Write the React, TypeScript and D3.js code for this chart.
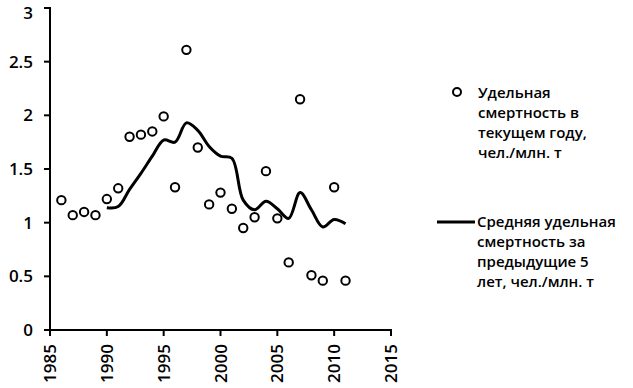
import React from "react";
import * as d3 from "d3";

const pointYears = [1986,1987,1988,1989,1990,1991,1992,1993,1994,1995,1996,1997,1998,1999,2000,2001,2002,2003,2004,2005,2006,2007,2008,2009,2010,2011];
const pointValues = [1.21,1.07,1.10,1.07,1.22,1.32,1.80,1.82,1.85,1.99,1.33,2.61,1.70,1.17,1.28,1.13,0.95,1.05,1.48,1.04,0.63,2.15,0.51,0.46,1.33,0.46];
const lineYears = [1990,1991,1992,1993,1994,1995,1996,1997,1998,1999,2000,2001,2002,2003,2004,2005,2006,2007,2008,2009,2010,2011];
const lineValues = [1.14,1.15,1.31,1.46,1.62,1.77,1.75,1.93,1.86,1.71,1.62,1.60,1.21,1.12,1.20,1.13,1.04,1.28,1.12,0.96,1.03,0.99];
const yTicks = [0,0.5,1,1.5,2,2.5,3];
const xTicks = [1985,1990,1995,2000,2005,2010,2015];
const legend1 = ["Удельная","смертность в","текущем году,","чел./млн. т"];
const legend2 = ["Средняя удельная","смертность за","предыдущие 5","лет, чел./млн. т"];

const FONT = "'Open Sans', 'Liberation Sans', sans-serif";

export default function App() {
  const x = d3.scaleLinear().domain([1985, 2015]).range([50, 391]);
  const y = d3.scaleLinear().domain([0, 3]).range([330, 8]);
  const line = d3
    .line<number>()
    .x((_, i) => x(lineYears[i]))
    .y((d) => y(d))
    .curve(d3.curveCatmullRom.alpha(0.5));
  const fmt = (v: number) => String(v);
  return (
    <svg width={633} height={388} style={{ position: "absolute", left: 0, top: 0, background: "#fff" }} fontFamily={FONT}>
      <rect width={633} height={388} fill="#fff" />
      {/* axes */}
      <line x1={x(1985)} x2={x(1985)} y1={y(3) - 1} y2={y(0)} stroke="#000" strokeWidth={2} />
      <line x1={x(1985) - 6} x2={x(2015) + 1} y1={y(0)} y2={y(0)} stroke="#000" strokeWidth={2} />
      {yTicks.map((t) => (
        <g key={"y" + t}>
          <line x1={x(1985) - 6} x2={x(1985)} y1={y(t)} y2={y(t)} stroke="#000" strokeWidth={2} />
          <text x={33} y={Math.max(y(t) + 6, 18.5)} textAnchor="end" fontSize={17} fontWeight={600}>
            {fmt(t)}
          </text>
        </g>
      ))}
      {xTicks.map((t) => (
        <g key={"x" + t}>
          <line x1={x(t)} x2={x(t)} y1={y(0)} y2={y(0) + 6} stroke="#000" strokeWidth={2} />
          <text
            transform={`translate(${x(t)},${y(0) + 14}) rotate(-90)`}
            dy="0.36em"
            textAnchor="end"
            fontSize={17}
            fontWeight={600}
          >
            {t}
          </text>
        </g>
      ))}
      {/* line */}
      <path d={line(lineValues) || ""} fill="none" stroke="#000" strokeWidth={3} strokeLinejoin="round" />
      {/* points */}
      {pointValues.map((v, i) => (
        <circle key={"p" + i} cx={x(pointYears[i])} cy={y(v)} r={4.2} fill="#fff" stroke="#000" strokeWidth={2} />
      ))}
      {/* legend */}
      <circle cx={457} cy={92} r={4} fill="#fff" stroke="#000" strokeWidth={2} />
      {legend1.map((s, i) => (
        <text key={"l1" + i} x={478} y={93 + i * 19.7} dy="0.36em" fontSize={15} fontWeight={600}>
          {s}
        </text>
      ))}
      <line x1={437} x2={475} y1={222} y2={222} stroke="#000" strokeWidth={3} />
      {legend2.map((s, i) => (
        <text key={"l2" + i} x={477} y={222 + i * 19.7} dy="0.36em" fontSize={15} fontWeight={600}>
          {s}
        </text>
      ))}
    </svg>
  );
}
